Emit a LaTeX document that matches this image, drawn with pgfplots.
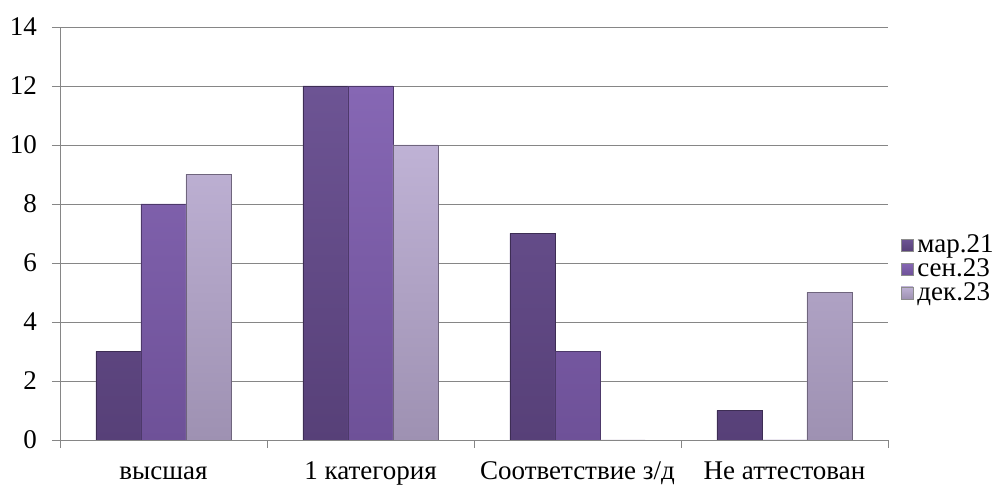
\documentclass[border=0pt]{standalone}
\usepackage{fontspec}
\setmainfont{Liberation Serif}
\usepackage{pgfplots}
\pgfplotsset{compat=1.18}

\definecolor{sA}{HTML}{6D5494}
\definecolor{sAd}{HTML}{574078}
\definecolor{sB}{HTML}{8667B4}
\definecolor{sBd}{HTML}{6E5198}
\definecolor{sC}{HTML}{BFB2D5}
\definecolor{sCd}{HTML}{9E91B2}
\definecolor{axgray}{HTML}{868686}

\begin{document}
\begin{tikzpicture}
\path[use as bounding box] (-30pt,-22.5pt) rectangle (470.5pt,220pt);
\begin{axis}[
    scale only axis,
    width=414pt, height=206.5pt,
    at={(0,0)}, anchor=south west,
    ybar=0pt, bar width=22.5pt,
    xmin=-0.5, xmax=3.5,
    ymin=0, ymax=14,
    ytick={0,2,...,14},
    xtick={0,1,2,3},
    xticklabels={высшая, 1 категория, Соответствие з/д, Не аттестован},
    minor xtick={-0.5,0.5,1.5,2.5,3.5},
    major x tick style={draw=none},
    minor x tick style={axgray},
    y tick style={axgray},
    tick align=outside,
    major tick length=4pt, minor tick length=4pt,
    axis x line*=bottom, axis y line*=left,
    axis line style={axgray},
    ymajorgrids, grid style={axgray, line width=0.4pt},
    tick label style={font=\fontsize{13.5}{15}\selectfont},
    yticklabel style={xshift=-4pt},
    xticklabel style={yshift=-3pt, text height=9.2pt, text depth=3pt},
    /pgf/number format/assume math mode=true,
    legend style={at={(1.015,0.414)}, anchor=west, draw=none, fill=none,
        font=\fontsize{13.5}{15}\selectfont, row sep=-2.5pt,
        inner sep=0pt},
    legend cell align=left,
    legend image code/.code={\path[#1, draw=black!45, line width=0.3pt] (0pt,-3pt) rectangle (6pt,3pt);},
]
\addplot[bottom color=sAd, top color=sA, draw=sAd!70!black, line width=0.3pt]
    coordinates {(0,3) (1,12) (2,7) (3,1)};
\addlegendentry{мар.21}
\addplot[bottom color=sBd, top color=sB, draw=sBd!70!black, line width=0.3pt]
    coordinates {(0,8) (1,12) (2,3) (3,0)};
\addlegendentry{сен.23}
\addplot[bottom color=sCd, top color=sC, draw=sCd!70!black, line width=0.3pt]
    coordinates {(0,9) (1,10) (2,0) (3,5)};
\addlegendentry{дек.23}
\end{axis}
\end{tikzpicture}
\end{document}
